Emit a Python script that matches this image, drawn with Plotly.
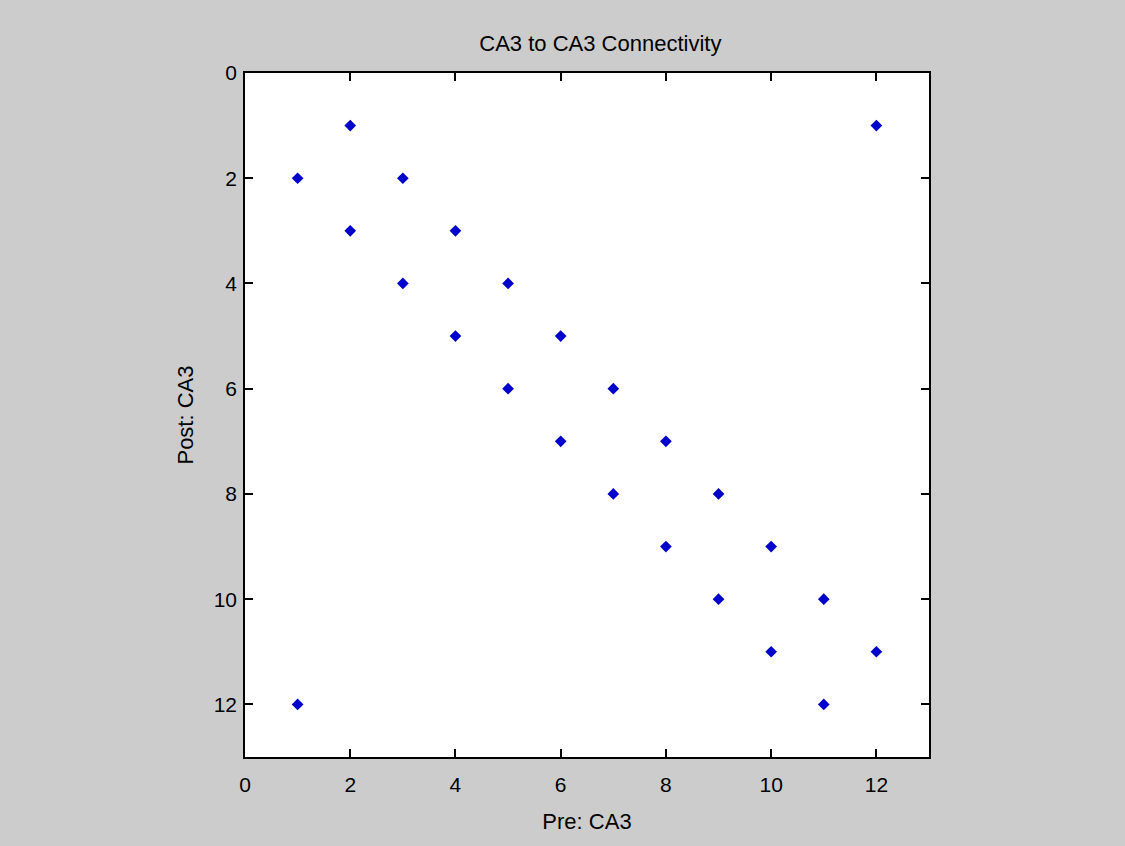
import plotly.graph_objects as go

pre = [1, 1, 2, 2, 3, 3, 4, 4, 5, 5, 6, 6, 7, 7, 8, 8, 9, 9, 10, 10, 11, 11, 12, 12]
post = [2, 12, 1, 3, 2, 4, 3, 5, 4, 6, 5, 7, 6, 8, 7, 9, 8, 10, 9, 11, 10, 12, 1, 11]
ticks = [0, 2, 4, 6, 8, 10, 12]

fig = go.Figure()
fig.add_trace(go.Scatter(
    x=pre, y=post, mode="markers",
    marker=dict(symbol="diamond", size=9, color="#0000CC", line=dict(width=0)),
    showlegend=False, hoverinfo="x+y"))

fam = "Liberation Sans, Arial, sans-serif"
tfont = dict(family=fam, size=22, color="#000000")
tickfont = dict(family=fam, size=21, color="#000000")
axis_common = dict(
    range=[0, 13], tickvals=ticks, ticks="inside", ticklen=8, tickwidth=1.5,
    tickcolor="#000", showline=True, linecolor="#000", linewidth=1.5,
    mirror="ticks", showgrid=False, zeroline=False, tickfont=tickfont,
)
fig.update_layout(
    width=1125, height=846,
    paper_bgcolor="#CCCCCC", plot_bgcolor="#FFFFFF",
    margin=dict(l=245, r=196, t=73, b=89),
    title=dict(text="CA3 to CA3 Connectivity", x=(457 + 712) / 2 / 1125, xref="paper",
               xanchor="center", y=1 - 43 / 846, yanchor="middle", font=tfont),
    xaxis=dict(**axis_common, ticklabelstandoff=8,
               title=dict(text="Pre: CA3", font=tfont, standoff=19)),
    yaxis=dict(**axis_common, autorange=False, ticklabelstandoff=2,
               title=dict(text="Post: CA3", font=tfont, standoff=14)),
)
fig.update_yaxes(range=[13, 0])
fig.write_html(
    "out.html",
    config={"displayModeBar": False},
    post_script="document.body.style.margin='0';document.body.style.background='#CCCCCC';",
)
